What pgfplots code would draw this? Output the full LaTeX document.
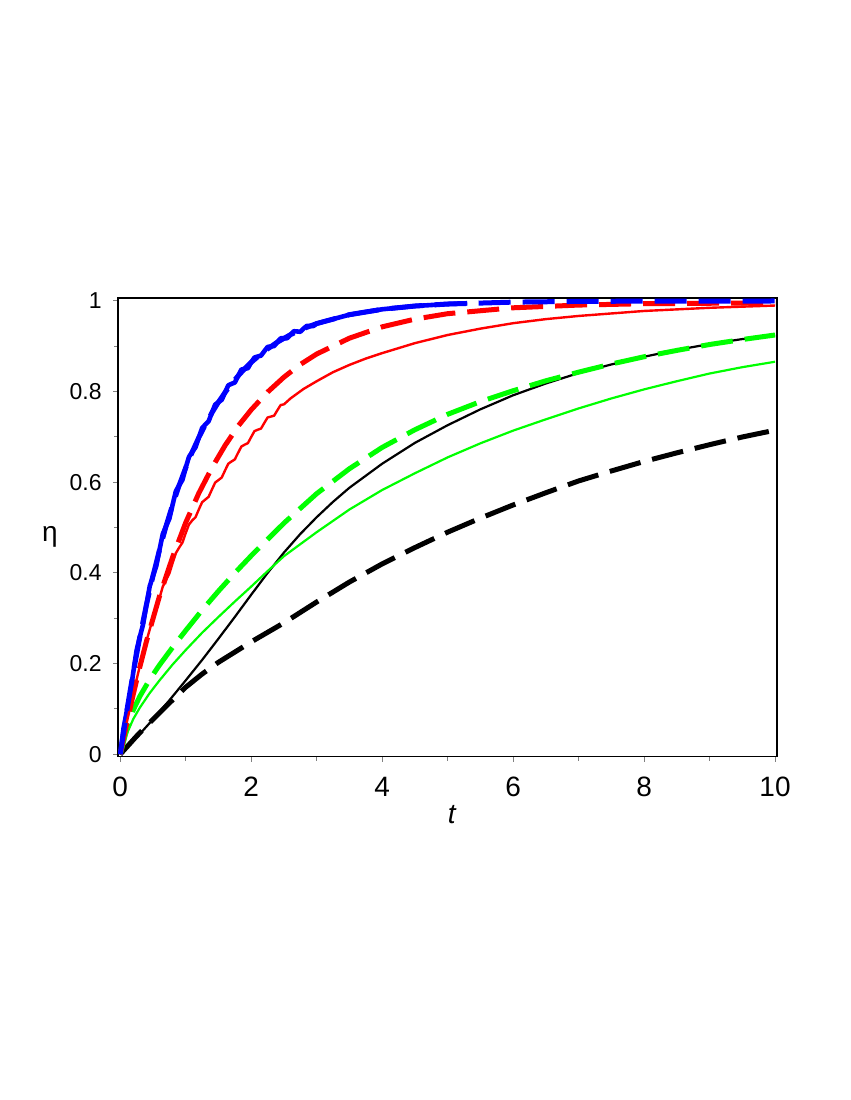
\documentclass[border=0pt]{standalone}
\usepackage{fontspec}
\setmainfont{Liberation Sans}
\usepackage{pgfplots}
\pgfplotsset{compat=1.18}
\begin{document}
\begin{tikzpicture}[x=1bp,y=1bp]
\path[use as bounding box] (0,0) rectangle (425,550);
\begin{axis}[
  at={(59bp,171.65bp)}, anchor=south west,
  scale only axis, width=329.5bp, height=229.2bp,
  xmin=-0.034, xmax=10.03, ymin=-0.0053, ymax=1.006,
  xtick={0,2,4,6,8,10}, ytick={0,0.2,0.4,0.6,0.8,1},
  minor x tick num=1, minor y tick num=1,
  xtick pos=bottom, ytick pos=left,
  tick align=outside, major tick length=2.5bp, minor tick length=2bp,
  tick style={gray, line width=0.5bp},
  axis line style={black, line width=0.8bp},
  /pgf/number format/assume math mode=true,
  /pgf/number format/fixed,
  xticklabel style={font=\fontsize{14bp}{16bp}\selectfont, anchor=center, yshift=-12.7bp},
  yticklabel style={font=\fontsize{11.5bp}{13bp}\selectfont, anchor=east, inner sep=0pt, xshift=-5.5bp},
  every axis x label/.style={at={(rel axis cs:0.507,0)}, anchor=center, yshift=-29bp, font=\fontsize{14bp}{16bp}\selectfont},
  every axis y label/.style={at={(rel axis cs:0,0.479)}, anchor=center, xshift=-34bp, font=\fontsize{14bp}{16bp}\selectfont},
  xlabel={\textit{t}}, ylabel={η},
]
% blue, solid
\addplot[blue, line width=2.3bp, line join=round] coordinates {
(0,0) (0.05,0.0568) (0.10,0.0952) (0.15,0.1313) (0.20,0.1813) (0.25,0.2292)
(0.30,0.2592) (0.35,0.2873) (0.40,0.3297) (0.45,0.3704) (0.50,0.3935)
(0.55,0.4151) (0.60,0.4512) (0.65,0.4860) (0.70,0.5034) (0.75,0.5196)
(0.80,0.5507) (0.85,0.5806) (0.90,0.5934) (0.95,0.6053) (1.00,0.6321)
(1.05,0.6561) (1.10,0.6671) (1.15,0.6774) (1.20,0.6988) (1.25,0.7195)
(1.30,0.7275) (1.35,0.7348) (1.40,0.7534) (1.45,0.7714) (1.50,0.7769)
(1.55,0.7818) (1.60,0.7981) (1.65,0.8139) (1.70,0.8173) (1.75,0.8202)
(1.80,0.8347) (1.85,0.8488) (1.90,0.8504) (1.95,0.8517) (2.00,0.8647)
(2.05,0.8753) (2.10,0.8775) (2.15,0.8795) (2.20,0.8892) (2.25,0.8986)
(2.30,0.8997) (2.35,0.9006) (2.40,0.9093) (2.45,0.9177) (2.50,0.9179)
(2.55,0.9179) (2.60,0.9257) (2.65,0.9333) (2.70,0.9328) (2.75,0.9321)
(2.80,0.9392) (2.85,0.9452) (2.90,0.9450) (2.95,0.9447) (3.00,0.9502)
(3.5,0.9698) (4.0,0.9817) (4.5,0.9889) (5.0,0.9933) (5.3,0.9950)
};
% red, solid
\addplot[red, line width=1.2bp, line join=round] coordinates {
(0,0) (0.1,0.070) (0.2,0.135) (0.3,0.195) (0.4,0.250) (0.5,0.300)
(0.55,0.3175) (0.6,0.345) (0.65,0.370) (0.7,0.385) (0.75,0.3985)
(0.8,0.422) (0.85,0.444) (0.9,0.456) (0.95,0.467) (1.0,0.488)
(1.05,0.507) (1.1,0.516) (1.15,0.523) (1.2,0.540) (1.25,0.556)
(1.3,0.562) (1.35,0.568) (1.4,0.584) (1.45,0.5995) (1.5,0.605)
(1.55,0.6105) (1.6,0.626) (1.65,0.641) (1.7,0.646) (1.75,0.6505)
(1.8,0.665) (1.85,0.679) (1.9,0.683) (1.95,0.6865) (2.0,0.700)
(2.05,0.713) (2.1,0.716) (2.15,0.7185) (2.2,0.731) (2.25,0.743)
(2.3,0.745) (2.35,0.747) (2.4,0.759) (2.45,0.7705) (2.5,0.772)
(2.6,0.785) (2.8,0.806) (3.0,0.823) (3.25,0.843) (3.5,0.859)
(3.75,0.873) (4.0,0.885) (4.5,0.907) (5.0,0.925) (5.5,0.939)
(6.0,0.951) (6.5,0.960) (7.0,0.967) (8.0,0.978) (9.0,0.985) (10,0.990)
};
% black, solid
\addplot[black, line width=1.1bp] coordinates {
(0,0) (0.25,0.037) (0.5,0.077) (0.75,0.119) (1.0,0.163) (1.25,0.208)
(1.5,0.255) (1.75,0.303) (2.0,0.352) (2.25,0.400) (2.5,0.445) (2.75,0.486)
(3.0,0.523) (3.25,0.557) (3.5,0.588) (4.0,0.641) (4.5,0.687) (5.0,0.726)
(5.5,0.761) (6.0,0.792) (6.5,0.818) (7.0,0.841) (7.5,0.860) (8.0,0.877)
(8.5,0.892) (9.0,0.905) (9.5,0.916) (10,0.925)
};
% green, solid
\addplot[green, line width=1.1bp] coordinates {
(0,0) (0.1,0.045) (0.2,0.078) (0.3,0.103) (0.45,0.135) (0.6,0.163)
(0.8,0.198) (1.0,0.230) (1.25,0.268) (1.5,0.303) (1.75,0.337) (2.0,0.370)
(2.25,0.404) (2.5,0.437) (3.0,0.490) (3.5,0.540) (4.0,0.583) (4.5,0.620)
(5.0,0.655) (5.5,0.686) (6.0,0.714) (6.5,0.739) (7.0,0.763) (7.5,0.785)
(8.0,0.805) (8.5,0.823) (9.0,0.840) (9.5,0.854) (10,0.866)
};
% black, dashed
\addplot[black, line width=2.5bp, dash pattern=on 16bp off 6bp] coordinates {
(0,0) (0.25,0.040) (0.5,0.077) (0.75,0.113) (1.0,0.148) (1.25,0.177)
(1.5,0.203) (2.0,0.248) (2.5,0.290) (3.0,0.336) (3.5,0.380) (4.0,0.420)
(4.5,0.456) (5.0,0.490) (5.5,0.521) (6.0,0.550) (6.5,0.577) (7.0,0.603)
(7.5,0.625) (8.0,0.646) (8.5,0.665) (9.0,0.683) (9.5,0.700) (10,0.715)
};
% green, dashed
\addplot[green, line width=2.5bp, dash pattern=on 16bp off 6bp] coordinates {
(0,0) (0.1,0.055) (0.2,0.098) (0.3,0.128) (0.45,0.165) (0.6,0.197)
(0.8,0.236) (1.0,0.273) (1.25,0.318) (1.5,0.360) (1.75,0.400) (2.0,0.438)
(2.5,0.510) (3.0,0.575) (3.5,0.630) (4.0,0.677) (4.5,0.716) (5.0,0.750)
(5.5,0.778) (6.0,0.802) (6.5,0.824) (7.0,0.843) (7.5,0.861) (8.0,0.877)
(8.5,0.891) (9.0,0.904) (9.5,0.915) (10,0.925)
};
% red, dashed
\addplot[red, line width=2.5bp, dash pattern=on 16bp off 6bp] coordinates {
(0,0) (0.1,0.069) (0.2,0.133) (0.3,0.193) (0.4,0.249) (0.6,0.349)
(0.8,0.435) (1.0,0.511) (1.2,0.576) (1.4,0.632) (1.6,0.681) (1.8,0.724)
(2.0,0.760) (2.25,0.799) (2.5,0.832) (2.75,0.860) (3.0,0.883) (3.5,0.918)
(4.0,0.943) (4.5,0.960) (5.0,0.972) (6.0,0.985) (7.0,0.991) (8.0,0.994)
(9.0,0.995) (10,0.996)
};
% blue, dashed
\addplot[blue, line width=2.5bp, dash pattern=on 16bp off 6bp] coordinates {
(0,0) (0.1,0.0952) (0.2,0.1813) (0.3,0.2592) (0.4,0.3297) (0.5,0.3935)
(0.6,0.4512) (0.7,0.5034) (0.8,0.5507) (0.9,0.5934) (1.0,0.6321)
(1.1,0.6671) (1.2,0.6988) (1.3,0.7275) (1.4,0.7534) (1.5,0.7769)
(1.6,0.7981) (1.7,0.8173) (1.8,0.8347) (1.9,0.8504) (2.0,0.8647)
(2.2,0.8892) (2.4,0.9093) (2.6,0.9257) (2.8,0.9392) (3.0,0.9502)
(3.5,0.9698) (4.0,0.9817) (4.5,0.9889) (5.0,0.9933) (6.0,0.9975)
(7.0,0.9991) (8.0,0.9997) (10,1.0)
};
\end{axis}
\end{tikzpicture}
\end{document}
